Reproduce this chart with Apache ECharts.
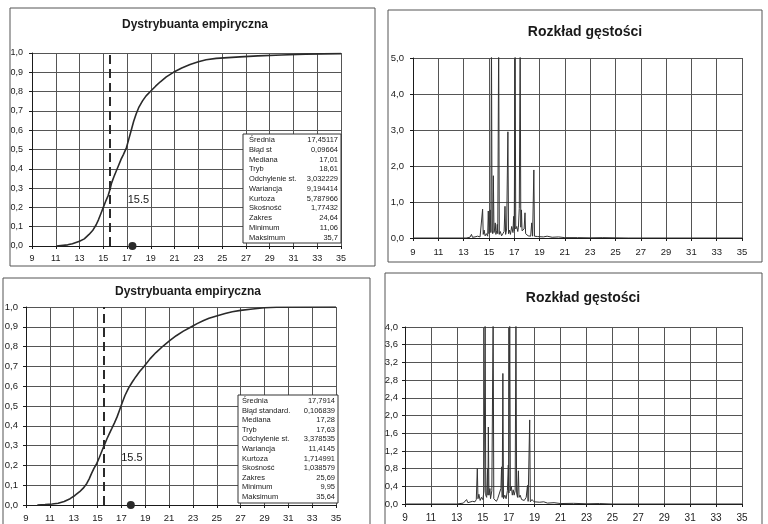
<!DOCTYPE html>
<html><head><meta charset="utf-8">
<script src="https://cdn.jsdelivr.net/npm/echarts@6/dist/echarts.min.js"></script>
<style>html,body{margin:0;padding:0;background:#fff}#c{width:768px;height:524px}</style>
</head><body><div id="c"></div>
<script>
// ---------- data ----------
const titleCdf = 'Dystrybuanta empiryczna';
const titleDens = 'Rozkład gęstości';
const xMin = 9, xMax = 35, xStep = 2;
const markerValue = 15.5;
const markerText = '15.5';
const meanTop = 17.45117;
const meanBottom = 17.7914;

const cdfTop = [[11.06,0],[12.0,0.006],[12.4,0.012],[13.0,0.025],[13.4,0.037],[13.8,0.06],[14.1,0.08],[14.4,0.11],[14.6,0.137],[14.8,0.168],[15.0,0.2],[15.2,0.232],[15.4,0.26],[15.55,0.29],[15.7,0.327],[15.9,0.36],[16.1,0.39],[16.3,0.42],[16.5,0.45],[16.7,0.475],[16.95,0.51],[17.15,0.555],[17.35,0.6],[17.55,0.645],[17.77,0.685],[18.0,0.72],[18.3,0.752],[18.6,0.778],[19.0,0.803],[19.4,0.828],[19.8,0.851],[20.3,0.876],[20.9,0.9],[21.6,0.922],[22.3,0.94],[23.0,0.955],[23.65,0.965],[24.5,0.972],[25.5,0.976],[26.5,0.98],[28,0.985],[30,0.99],[32,0.994],[35,0.997]];

const cdfBottom = [[9.95,0],[10.6,0.002],[11.2,0.005],[11.7,0.009],[12.2,0.018],[12.7,0.032],[13.1,0.048],[13.5,0.067],[13.8,0.085],[14.1,0.109],[14.3,0.132],[14.5,0.16],[14.7,0.185],[14.94,0.21],[15.15,0.24],[15.35,0.27],[15.55,0.3],[15.8,0.336],[16.0,0.362],[16.2,0.387],[16.42,0.415],[16.64,0.445],[16.85,0.48],[17.06,0.515],[17.3,0.553],[17.6,0.59],[17.9,0.62],[18.2,0.647],[18.55,0.675],[18.9,0.70],[19.4,0.738],[19.9,0.77],[20.5,0.803],[21.05,0.83],[21.6,0.855],[22.2,0.878],[22.8,0.898],[23.35,0.916],[23.9,0.932],[24.35,0.943],[25.05,0.956],[25.7,0.967],[26.3,0.976],[27.0,0.983],[28.0,0.99],[29.0,0.996],[30.0,0.999],[35,1.0]];

const densTop = [[9,0],[13.2,0],[13.5,0.02],[13.62,0.1],[13.7,0.02],[13.9,0.03],[14.1,0.05],[14.3,0.03],[14.45,0.08],[14.5,0.8],[14.55,0.1],[14.62,0.22],[14.7,0.06],[14.8,0.12],[14.9,0.05],[14.95,0.75],[15.0,0.12],[15.05,0.3],[15.1,0.78],[15.15,0.15],[15.2,5.6],[15.25,0.2],[15.3,0.12],[15.35,1.73],[15.4,0.15],[15.45,0.25],[15.5,0.42],[15.55,0.1],[15.62,0.2],[15.66,0.38],[15.7,0.12],[15.77,5.6],[15.82,0.1],[15.9,0.18],[16.0,0.06],[16.1,0.12],[16.2,0.18],[16.27,0.88],[16.32,0.1],[16.4,0.25],[16.5,2.95],[16.55,0.12],[16.62,0.22],[16.7,0.1],[16.8,0.32],[16.9,0.15],[16.95,0.6],[17.0,0.2],[17.07,5.6],[17.12,0.25],[17.2,0.32],[17.28,0.18],[17.33,0.3],[17.4,0.82],[17.47,5.6],[17.52,0.3],[17.57,0.78],[17.62,0.2],[17.7,0.15],[17.78,0.25],[17.85,0.7],[17.9,0.12],[18.0,0.1],[18.1,0.06],[18.2,0.08],[18.3,0.05],[18.38,0.42],[18.45,0.05],[18.55,1.89],[18.6,0.05],[18.7,0.08],[18.85,0.04],[19.0,0.06],[19.3,0.03],[19.6,0.05],[20.0,0.02],[20.5,0.03],[21,0.01],[22,0.01],[23,0.005],[24,0.01],[25,0.005],[26,0],[35,0]];

const densBottom = [[9,0],[13.0,0],[13.5,0.02],[13.75,0.1],[13.85,0.03],[14.0,0.04],[14.2,0.06],[14.4,0.05],[14.5,0.1],[14.58,0.8],[14.63,0.12],[14.7,0.22],[14.8,0.08],[14.9,0.15],[15.0,0.1],[15.1,0.3],[15.18,4.3],[15.23,0.2],[15.3,0.15],[15.37,0.8],[15.4,0.2],[15.43,1.74],[15.48,0.2],[15.55,0.35],[15.6,0.12],[15.7,0.3],[15.8,4.3],[15.85,0.12],[15.95,0.15],[16.05,0.06],[16.15,0.12],[16.3,0.15],[16.4,0.35],[16.45,0.84],[16.5,0.15],[16.55,2.95],[16.6,0.12],[16.7,0.2],[16.8,0.12],[16.9,0.3],[16.97,0.88],[17.02,0.25],[17.08,4.3],[17.13,0.3],[17.2,0.4],[17.28,0.2],[17.35,0.32],[17.42,0.2],[17.5,0.3],[17.56,4.3],[17.61,0.25],[17.68,0.15],[17.75,0.75],[17.8,0.15],[17.88,0.2],[18.0,0.1],[18.1,0.12],[18.2,0.08],[18.35,0.15],[18.45,0.42],[18.5,0.06],[18.62,1.9],[18.67,0.05],[18.8,0.1],[18.95,0.05],[19.1,0.08],[19.4,0.04],[19.7,0.05],[20.0,0.02],[20.5,0.03],[21,0.01],[22,0.015],[23,0.005],[24,0.01],[25,0],[35,0]];

const statNamesTop = ['Średnia','Błąd st','Mediana','Tryb','Odchylenie st.','Wariancja','Kurtoza','Skośność','Zakres','Minimum','Maksimum'];
const statValuesTop = ['17,45117','0,09664','17,01','18,61','3,032229','9,194414','5,787966','1,77432','24,64','11,06','35,7'];
const statNamesBottom = ['Średnia','Błąd standard.','Mediana','Tryb','Odchylenie st.','Wariancja','Kurtoza','Skośność','Zakres','Minimum','Maksimum'];
const statValuesBottom = ['17,7914','0,106839','17,28','17,63','3,378535','11,4145','1,714991','1,038579','25,69','9,95','35,64'];

// ---------- chart ----------
const FONT = 'Liberation Sans, Arial, sans-serif';
const INK = '#1a1a1a';
const GRIDC = '#555';
const comma = v => v.toFixed(1).replace('.', ',');

function xAx(gi, fs, margin) {
  return {type:'value', gridIndex:gi, min:xMin, max:xMax, interval:xStep,
    axisLine:{show:true, onZero:false, lineStyle:{color:INK, width:1}},
    axisTick:{show:true, length:3, lineStyle:{color:INK}},
    axisLabel:{fontSize:fs, color:INK, margin:margin, fontFamily:FONT},
    splitLine:{show:true, lineStyle:{color:GRIDC, width:1}}};
}
function yAx(gi, max, step, fs, margin) {
  return {type:'value', gridIndex:gi, min:0, max:max, interval:step,
    axisLine:{show:true, onZero:false, lineStyle:{color:INK, width:1}},
    axisTick:{show:true, length:3, lineStyle:{color:INK}},
    axisLabel:{fontSize:fs, color:INK, margin:margin, fontFamily:FONT, formatter:comma},
    splitLine:{show:true, lineStyle:{color:GRIDC, width:1}}};
}

function statTable(names, values, bx, by, bw, bh, row0, dy, lx, rx) {
  const els = [{type:'rect', z:100, shape:{x:bx, y:by, width:bw, height:bh},
    style:{fill:'#fff', stroke:'#333', lineWidth:1}}];
  names.forEach((n, i) => {
    els.push({type:'text', z:101, x:lx, y:row0 + i*dy,
      style:{text:n, fontSize:7.5, fontFamily:FONT, fill:INK, textAlign:'left', textVerticalAlign:'middle'}});
    els.push({type:'text', z:101, x:rx, y:row0 + i*dy,
      style:{text:values[i], fontSize:7.5, fontFamily:FONT, fill:INK, textAlign:'right', textVerticalAlign:'middle'}});
  });
  return els;
}
function frame(x, y, w, h) {
  return {type:'rect', z:-1, shape:{x:x, y:y, width:w, height:h}, style:{fill:'none', stroke:'#555', lineWidth:1}};
}
function title(t, x, y, fs) {
  return {type:'text', z:50, x:x, y:y, style:{text:t, fontSize:fs, fontWeight:'bold', fontFamily:FONT, fill:INK, textAlign:'center', textVerticalAlign:'middle'}};
}

function cdfSeries(gi, data, mean, labelPos) {
  return [
    {type:'line', xAxisIndex:gi, yAxisIndex:gi, data:data, showSymbol:false, silent:true,
      lineStyle:{color:'#2a2a2a', width:1.6}, z:5,
      markLine:{symbol:'none', silent:true, label:{show:false},
        lineStyle:{type:[9,5], color:'#2a2a2a', width:2}, data:[{xAxis:markerValue}]}},
    {type:'scatter', xAxisIndex:gi, yAxisIndex:gi, data:[[mean,0]], symbolSize:8, clip:false,
      itemStyle:{color:'#2a2a2a', opacity:1}, z:6, silent:true},
    {type:'scatter', xAxisIndex:gi, yAxisIndex:gi, data:[labelPos], symbolSize:0, silent:true,
      itemStyle:{opacity:1},
      label:{show:true, position:'right', distance:0, formatter:markerText, fontSize:11, fontFamily:FONT, color:INK, opacity:1}}
  ];
}
function densSeries(gi, data) {
  return {type:'line', xAxisIndex:gi, yAxisIndex:gi, data:data, showSymbol:false, silent:true, clip:true,
    lineStyle:{color:'#333', width:1}, z:5};
}

const chart = echarts.init(document.getElementById('c'), null, {renderer:'canvas'});
chart.setOption({
  backgroundColor:'#fff',
  animation:false,
  grid:[
    {left:32, top:53, width:309, height:193},
    {left:413, top:58, width:329, height:180},
    {left:26, top:307, width:310, height:198},
    {left:405, top:327, width:337, height:177}
  ],
  xAxis:[xAx(0, 9, 8), xAx(1, 9.5, 9), xAx(2, 9.5, 8), xAx(3, 10, 9)],
  yAxis:[yAx(0, 1, 0.1, 9, 9), yAx(1, 5, 1, 9.5, 9), yAx(2, 1, 0.1, 9.5, 8), yAx(3, 4, 0.4, 9.5, 7)],
  series:[
    ...cdfSeries(0, cdfTop, meanTop, [17.05, 0.24]),
    densSeries(1, densTop),
    ...cdfSeries(2, cdfBottom, meanBottom, [16.98, 0.24]),
    densSeries(3, densBottom)
  ],
  graphic:[
    frame(10, 8, 365, 258),
    frame(388, 10, 374, 252),
    frame(3, 278, 367, 250),
    frame(385, 273, 377, 255),
    title(titleCdf, 195, 25, 12),
    title(titleDens, 585, 32, 14),
    title(titleCdf, 188, 292, 12),
    title(titleDens, 583, 298, 14),
    ...statTable(statNamesTop, statValuesTop, 243, 134, 98, 109, 140, 9.75, 249, 338),
    ...statTable(statNamesBottom, statValuesBottom, 238, 395, 100, 108, 401, 9.6, 242, 335)
  ]
});
</script></body></html>
